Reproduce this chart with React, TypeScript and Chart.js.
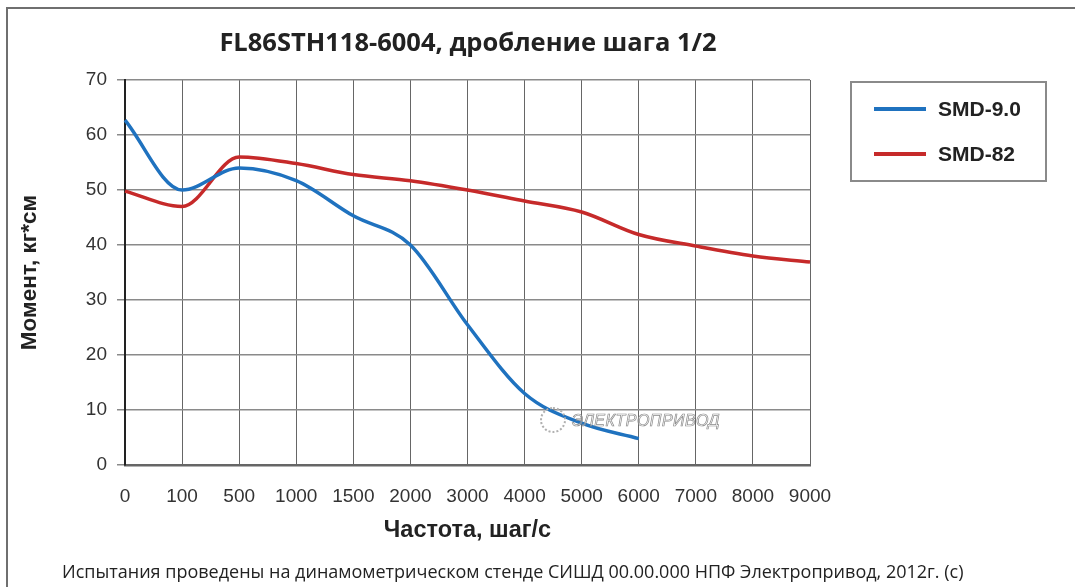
import React, { useEffect, useRef } from "react";
import { Chart, registerables } from "chart.js";

Chart.register(...registerables);

const TITLE = "FL86STH118-6004, дробление шага 1/2";
const X_TITLE = "Частота, шаг/с";
const Y_TITLE = "Момент, кг*см";
const FOOTER = "Испытания проведены на динамометрическом стенде СИШД 00.00.000 НПФ Электропривод, 2012г. (с)";

const categories = ["0", "100", "500", "1000", "1500", "2000", "3000", "4000", "5000", "6000", "7000", "8000", "9000"];
const smd90 = [62.7, 50, 54, 51.7, 45.3, 40, 25.5, 13, 7.6, 4.8, null, null, null];
const smd82 = [49.8, 47, 56, 54.8, 52.8, 51.7, 50, 48, 46, 41.9, 39.8, 38, 36.9];
const seriesNames = ["SMD-9.0", "SMD-82"];
const seriesColors = ["#1f72bf", "#c62a2a"];

const SANS = "'Liberation Sans', Arial, sans-serif";

export default function App() {
  const ref = useRef<HTMLCanvasElement | null>(null);

  useEffect(() => {
    if (!ref.current) return;
    const chart = new Chart(ref.current, {
      type: "line",
      data: {
        labels: categories,
        datasets: [
          {
            label: seriesNames[0],
            data: smd90,
            borderColor: seriesColors[0],
            backgroundColor: seriesColors[0],
            borderWidth: 3.5,
            pointRadius: 0,
            cubicInterpolationMode: "monotone",
            spanGaps: false,
          },
          {
            label: seriesNames[1],
            data: smd82,
            borderColor: seriesColors[1],
            backgroundColor: seriesColors[1],
            borderWidth: 3.5,
            pointRadius: 0,
            cubicInterpolationMode: "monotone",
          },
        ],
      },
      options: {
        responsive: false,
        animation: false,
        layout: { padding: { left: 0, top: 80, right: 265, bottom: 32 } },
        plugins: {
          legend: { display: false },
          title: { display: false },
          tooltip: { enabled: false },
        },
        scales: {
          x: {
            type: "category",
            offset: false,
            afterFit: (s: any) => {
              s.height = 90;
            },
            grid: { color: "#666", lineWidth: 1, drawTicks: false },
            border: { color: "#666", width: 2.5 },
            ticks: {
              color: "#333",
              font: { family: SANS, size: 19 },
              padding: 20,
              maxRotation: 0,
              autoSkip: false,
            },
            title: {
              display: true,
              text: X_TITLE,
              color: "#222",
              font: { family: SANS, size: 23.5, weight: "bold" },
              padding: { top: 0, bottom: 10 },
            },
          },
          y: {
            min: 0,
            max: 70,
            afterFit: (s: any) => {
              s.width = 125;
            },
            grid: { color: "#8a8a8a", lineWidth: 1.5, drawTicks: true, tickLength: 8 },
            border: { color: "#222", width: 2 },
            ticks: {
              stepSize: 10,
              color: "#333",
              font: { family: SANS, size: 19 },
              padding: 10,
            },
            title: {
              display: true,
              text: Y_TITLE,
              color: "#222",
              font: { family: SANS, size: 22.5, weight: "bold" },
              padding: { top: 16, bottom: 0 },
            },
          },
        },
      },
    });
    return () => chart.destroy();
  }, []);

  return (
    <div style={{ position: "absolute", left: 0, top: 0, width: 1075, height: 587, overflow: "hidden", background: "#fff" }}>
      <div
        style={{
          position: "absolute",
          left: 6,
          top: 7,
          width: 1200,
          height: 700,
          border: "2px solid #6f6f6f",
          boxSizing: "border-box",
        }}
      />
      <canvas ref={ref} width={1075} height={587} style={{ position: "absolute", left: 0, top: 0 }} />
      <div
        style={{
          position: "absolute",
          left: 0,
          width: 936,
          top: 25,
          textAlign: "center",
          fontFamily: "'Open Sans', sans-serif",
          fontWeight: 700,
          fontSize: 25.5,
          color: "#222",
          lineHeight: "32px",
          whiteSpace: "nowrap",
        }}
      >
        {TITLE}
      </div>
      <div
        style={{
          position: "absolute",
          left: 850,
          top: 81,
          width: 197,
          height: 101,
          border: "2px solid #8a8a8a",
          boxSizing: "border-box",
          fontFamily: SANS,
          fontWeight: 700,
          fontSize: 21,
          color: "#222",
        }}
      >
        {seriesNames.map((n, i) => (
          <div key={n} style={{ position: "absolute", left: 22, top: 13 + i * 45, height: 26, display: "flex", alignItems: "center" }}>
            <span style={{ display: "inline-block", width: 52, height: 4, background: seriesColors[i], marginRight: 12 }} />
            <span>{n}</span>
          </div>
        ))}
      </div>
      <div
        style={{
          position: "absolute",
          left: 540,
          top: 407,
          width: 22,
          height: 22,
          borderRadius: "50%",
          border: "2px dotted #b0b0b0",
        }}
      />
      <div
        style={{
          position: "absolute",
          left: 572,
          top: 412,
          fontFamily: SANS,
          fontSize: 16,
          fontStyle: "italic",
          color: "rgba(255,255,255,0.3)",
          WebkitTextStroke: "0.7px #8a8a8a",
          letterSpacing: 0.5,
          whiteSpace: "nowrap",
        }}
      >
        ЭЛЕКТРОПРИВОД
      </div>
      <div
        style={{
          position: "absolute",
          left: 62,
          top: 558,
          fontFamily: "'Open Sans', sans-serif",
          fontSize: 18,
          color: "#222",
          whiteSpace: "nowrap",
          lineHeight: "26px",
        }}
      >
        {FOOTER}
      </div>
    </div>
  );
}
